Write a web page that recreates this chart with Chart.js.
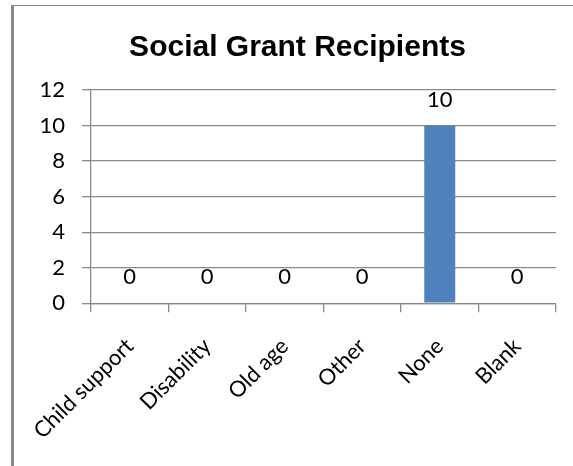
<!DOCTYPE html>
<html>
<head>
<meta charset="utf-8">
<script src="https://cdn.jsdelivr.net/npm/chart.js@4"></script>
<style>
  html, body { margin: 0; padding: 0; background: #fff; overflow: hidden; }
  #frame {
    position: absolute; left: 11px; top: 5px;
    width: 600px; height: 470px;
    border-left: 3px solid #8a8a8a; border-top: 1px solid #8a8a8a;
  }
  #wrap { position: absolute; left: 0; top: 0; width: 559px; height: 460px; }
</style>
</head>
<body>
<div id="frame"><div id="wrap"><canvas id="chart"></canvas></div></div>
<script>
// chart data
const categories = ['Child support', 'Disability', 'Old age', 'Other', 'None', 'Blank'];
const recipients = [0, 0, 0, 0, 10, 0];
const yMax = 12;
const yStep = 2;

const labelFont = { family: 'Lato', size: 22 };

// draws the value above every bar
const valueLabels = {
  id: 'valueLabels',
  afterDatasetsDraw(chart) {
    const ctx = chart.ctx;
    const meta = chart.getDatasetMeta(0);
    ctx.save();
    ctx.font = `${labelFont.size}px ${labelFont.family}`;
    ctx.fillStyle = '#000';
    ctx.textAlign = 'center';
    ctx.textBaseline = 'middle';
    meta.data.forEach((bar, i) => {
      ctx.fillText(String(recipients[i]), bar.x, bar.y - 26);
    });
    ctx.restore();
  },
};

new Chart(document.getElementById('chart'), {
  type: 'bar',
  data: {
    labels: categories,
    datasets: [
      {
        label: 'Recipients',
        data: recipients,
        backgroundColor: '#4f81bd',
        barPercentage: 0.4,
        categoryPercentage: 1,
      },
    ],
  },
  options: {
    responsive: true,
    maintainAspectRatio: false,
    animation: false,
    layout: { padding: { left: 25, right: 17, top: 0, bottom: 1 } },
    plugins: {
      legend: { display: false },
      tooltip: { enabled: false },
      title: {
        display: true,
        text: 'Social Grant Recipients',
        color: '#000',
        font: { family: 'Liberation Sans', size: 30, weight: 'bold' },
        padding: { top: 24, bottom: 24 },
      },
    },
    scales: {
      x: {
        offset: true,
        // rotated labels fit in the space left of the axis already
        afterFit(scale) {
          scale.paddingLeft = 0;
        },
        border: { color: '#8a8a8a', width: 1.3 },
        grid: {
          offset: true,
          drawOnChartArea: false,
          drawTicks: true,
          tickLength: 9,
          color: '#8a8a8a',
          lineWidth: 1.3,
        },
        ticks: {
          color: '#000',
          font: labelFont,
          maxRotation: 45,
          minRotation: 45,
          padding: 21,
        },
      },
      y: {
        min: 0,
        max: yMax,
        afterFit(scale) {
          scale.width = 52;
        },
        border: { color: '#8a8a8a', width: 1.3 },
        grid: { color: '#8a8a8a', lineWidth: 1.3, tickLength: 9 },
        ticks: { stepSize: yStep, color: '#000', font: labelFont, padding: 17 },
      },
    },
  },
  plugins: [valueLabels],
});
</script>
</body>
</html>
